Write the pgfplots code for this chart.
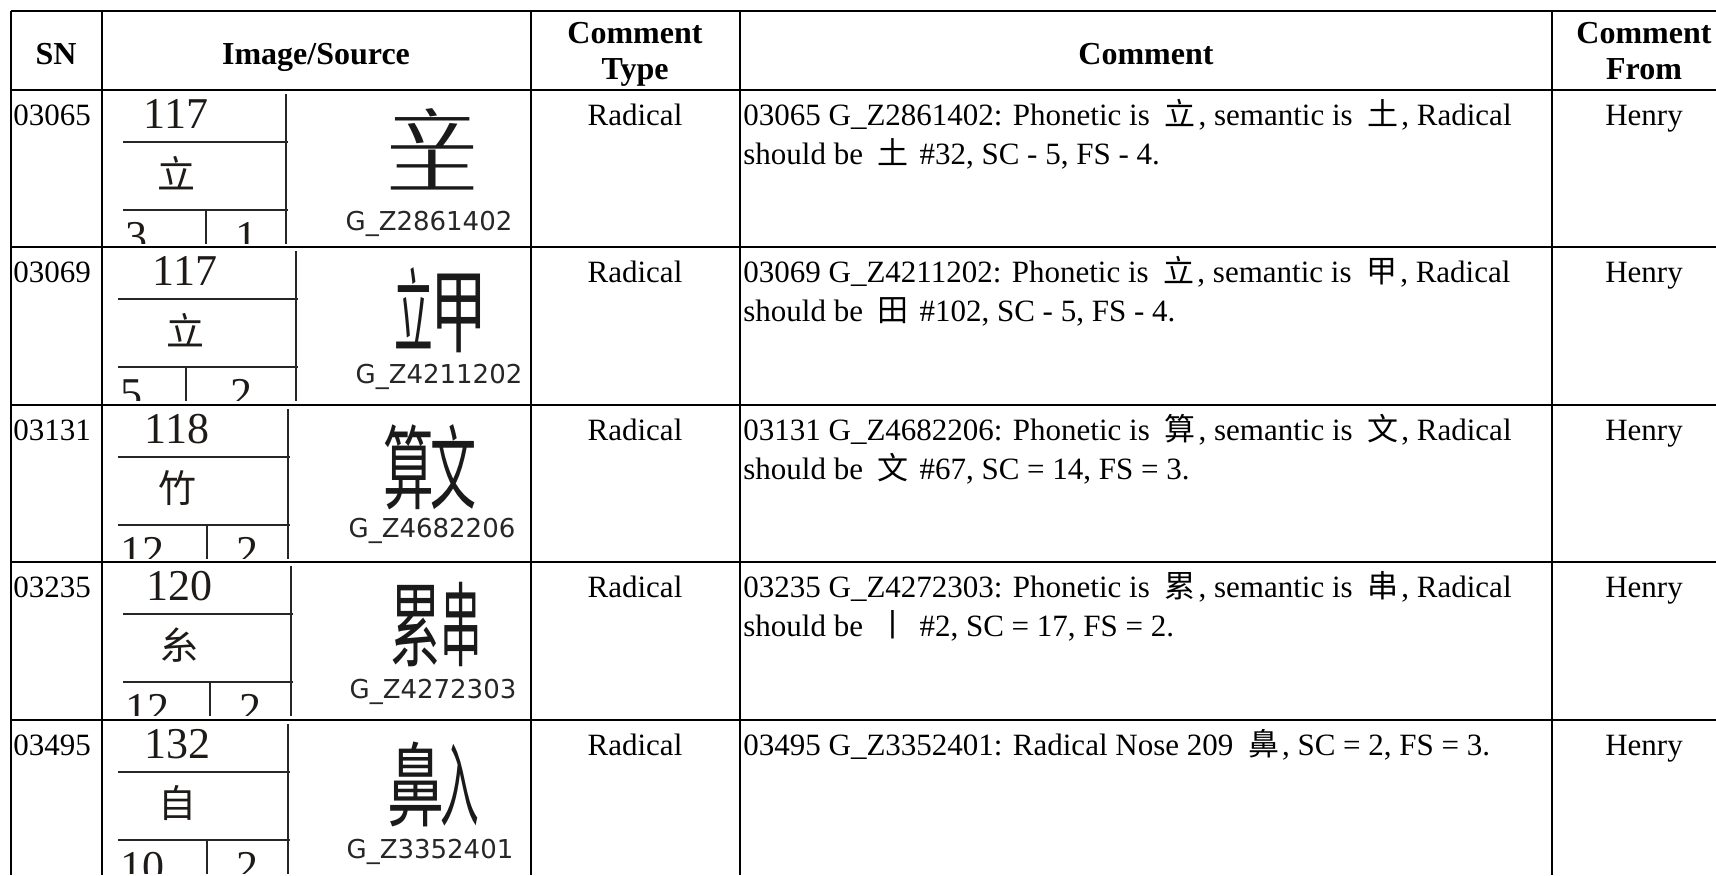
\documentclass[border=0pt]{standalone}
\usepackage{fontspec}
\usepackage{graphicx}
\usepackage{pgfplots}
\pgfplotsset{compat=1.18}
\setmainfont{Liberation Serif}
\newfontfamily\cjk{Noto Sans CJK SC}
\newfontfamily\dv{DejaVu Sans}
\newcommand{\cj}[1]{\kern3.5pt\relax{\cjk #1}\kern1.5pt\relax}
\definecolor{ink}{HTML}{1E1A18}
\definecolor{gly}{HTML}{1A1A1A}
\tikzset{
  body/.style={font=\fontsize{15.5}{19.5}\selectfont, inner sep=0pt, text=black},
  head/.style={font=\fontsize{16}{16}\selectfont\bfseries, inner sep=0pt, text=black},
  num/.style={font=\fontsize{22}{22}\selectfont, inner sep=0pt, text=ink},
  rad/.style={font=\cjk\fontsize{19}{19}\selectfont, inner sep=0pt, text=ink},
  big/.style={font=\cjk\fontsize{46}{46}\selectfont, inner sep=0pt, text=gly},
  glab/.style={font=\dv\fontsize{13}{13}\selectfont, inner sep=0pt, text=black!85},
  dl/.style={line width=1pt, draw=black!85},
}
% #1 row top, #2 SN, #3 comment line 1, #4 comment line 2
\newcommand{\rowtext}[4]{%
  \node[body,anchor=base west] at (axis cs:13,{#1+35}) {#2};
  \node[body,anchor=base] at (axis cs:635,{#1+35}) {Radical};
  \node[body,anchor=base west] at (axis cs:743,{#1+35}) {#3};
  \node[body,anchor=base west] at (axis cs:743,{#1+74}) {#4};
  \node[body,anchor=base] at (axis cs:1644,{#1+35}) {Henry};
}
% #1 T, #2 number, #3 radical, #4 left count, #5 right count, #6 left x, #7 vertical x, #8 inner x, #9 text centre x
\newcommand{\diag}[9]{%
  \draw[dl] (axis cs:#6,{#1+52}) -- (axis cs:{#7+2},{#1+52});
  \draw[dl] (axis cs:#6,{#1+120}) -- (axis cs:{#7+2},{#1+120});
  \draw[dl] (axis cs:#7,{#1+4}) -- (axis cs:#7,{#1+154});
  \draw[dl] (axis cs:#8,{#1+120}) -- (axis cs:#8,{#1+154});
  \node[num,anchor=base] at (axis cs:#9,{#1+38}) {#2};
  \node[rad] at (axis cs:#9,{#1+83}) {#3};
  \begin{scope}
    \clip (axis cs:#6,{#1+121}) rectangle (axis cs:#7,{#1+153});
    \node[num,anchor=base west] at (axis cs:{#6+2},{#1+161}) {#4};
    \node[num,anchor=base] at (axis cs:{(#8+#7)/2},{#1+161}) {#5};
  \end{scope}
}
\begin{document}
\begin{tikzpicture}
\begin{axis}[scale only axis, width=858pt, height=437.5pt,
  xmin=0, xmax=1716, ymin=0, ymax=875, y dir=reverse,
  hide axis, clip=false]
% table rules
\addplot[black, line width=1.4pt] coordinates {(11,11) (1716,11)};
\addplot[black, line width=1.4pt] coordinates {(11,90) (1716,90)};
\addplot[black, line width=1.4pt] coordinates {(11,247) (1716,247)};
\addplot[black, line width=1.4pt] coordinates {(11,405) (1716,405)};
\addplot[black, line width=1.4pt] coordinates {(11,562) (1716,562)};
\addplot[black, line width=1.4pt] coordinates {(11,720) (1716,720)};
\addplot[black, line width=1.4pt] coordinates {(11,11) (11,875)};
\addplot[black, line width=1.4pt] coordinates {(102,11) (102,875)};
\addplot[black, line width=1.4pt] coordinates {(531,11) (531,875)};
\addplot[black, line width=1.4pt] coordinates {(740,11) (740,875)};
\addplot[black, line width=1.4pt] coordinates {(1552,11) (1552,875)};
% header
\node[head,anchor=base] at (axis cs:56,64) {SN};
\node[head,anchor=base] at (axis cs:316,64) {Image/Source};
\node[head,anchor=base] at (axis cs:635,43) {Comment};
\node[head,anchor=base] at (axis cs:635,79) {Type};
\node[head,anchor=base] at (axis cs:1146,64) {Comment};
\node[head,anchor=base] at (axis cs:1644,43) {Comment};
\node[head,anchor=base] at (axis cs:1644,79) {From};
% rows
\rowtext{90}{03065}{03065 G\_Z2861402: Phonetic is \cj{立}, semantic is \cj{土}, Radical}{should be \cj{土} \#32, SC - 5, FS - 4.}
\rowtext{247}{03069}{03069 G\_Z4211202: Phonetic is \cj{立}, semantic is \cj{甲}, Radical}{should be \cj{田} \#102, SC - 5, FS - 4.}
\rowtext{405}{03131}{03131 G\_Z4682206: Phonetic is \cj{算}, semantic is \cj{文}, Radical}{should be \cj{文} \#67, SC = 14, FS = 3.}
\rowtext{562}{03235}{03235 G\_Z4272303: Phonetic is \cj{累}, semantic is \cj{串}, Radical}{should be \cj{丨} \#2, SC = 17, FS = 2.}
\rowtext{720}{03495}{03495 G\_Z3352401: Radical Nose 209 \cj{鼻}, SC = 2, FS = 3.}{}
% image/source diagrams
\diag{90}{117}{立}{3}{1}{123}{286}{206}{176}
\diag{247}{117}{立}{5}{2}{118}{296}{186}{185}
\diag{405}{118}{竹}{12}{2}{118}{288}{207}{177}
\diag{562}{120}{糸}{12}{2}{123}{291}{210}{179}
\diag{720}{132}{自}{10}{2}{118}{288}{207}{177}
% large glyphs
\node[big] at (axis cs:432,129) {\scalebox{1}[0.5]{立}};
\node[big] at (axis cs:432,170) {\scalebox{1}[0.5]{土}};
\node[big] at (axis cs:441,310) {\scalebox{0.42}[1]{立}\kern-1pt\scalebox{0.62}[1]{甲}};
\node[big] at (axis cs:430,467) {\scalebox{0.55}[1]{算}\kern-2pt\scalebox{0.5}[1]{文}};
\node[big] at (axis cs:436,625) {\scalebox{0.55}[1]{累}\scalebox{0.45}[1]{串}};
\node[big] at (axis cs:433,784) {\scalebox{0.62}[1]{鼻}\kern-2pt\scalebox{0.42}[1]{入}};
% source labels
\node[glab,anchor=base] at (axis cs:429,230) {G\_Z2861402};
\node[glab,anchor=base] at (axis cs:439,383) {G\_Z4211202};
\node[glab,anchor=base] at (axis cs:432,537) {G\_Z4682206};
\node[glab,anchor=base] at (axis cs:433,698) {G\_Z4272303};
\node[glab,anchor=base] at (axis cs:430,858) {G\_Z3352401};
\end{axis}
\pgfresetboundingbox
\path[use as bounding box] (current axis.south west) rectangle (current axis.north east);
\end{tikzpicture}
\end{document}
